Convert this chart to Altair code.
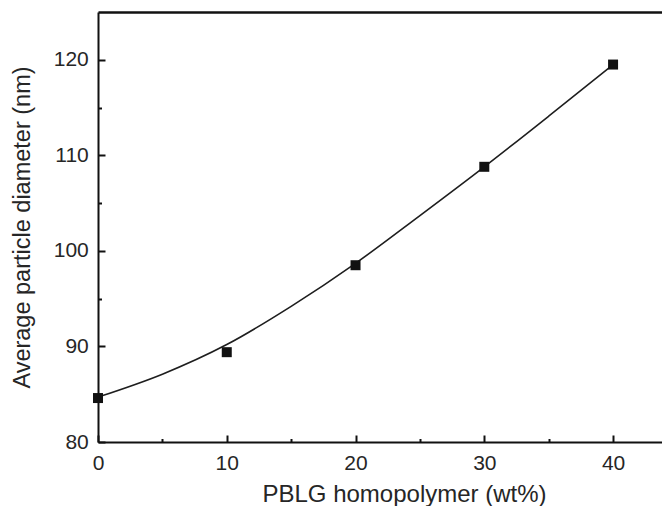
import altair as alt
import pandas as pd

# ---- data ----
wt = [0, 10, 20, 30, 40]
diameter = [84.6, 89.4, 98.5, 108.8, 119.5]
fit_wt = [0, 5, 10, 15, 20, 25, 30, 35, 40]
fit_diameter = [84.7, 87.1, 90.2, 94.2, 98.7, 103.7, 108.8, 114.1, 119.5]
x_major = [0, 10, 20, 30, 40]
x_minor = [5, 15, 25, 35]
y_major = [80, 90, 100, 110, 120]
y_minor = [85, 95, 105, 115]
x_domain = [0, 43.8]
y_domain = [80, 125]

pts = pd.DataFrame({"wt": wt, "d": diameter})
fit = pd.DataFrame({"wt": fit_wt, "d": fit_diameter})

FONT = "Liberation Sans"
INK = "#111111"
TXT = "#262626"
W, H = 564, 430

xs = alt.Scale(domain=x_domain, nice=False, zero=False)
ys = alt.Scale(domain=y_domain, nice=False, zero=False)

base = dict(grid=False, domainColor=INK, tickColor=INK, labelFont=FONT,
            titleFont=FONT, labelColor=TXT, titleColor=TXT,
            titleFontWeight="normal")

x_main = alt.Axis(orient="bottom", values=x_major, format="d",
                  tickSize={"expr": "-7"}, tickWidth=2, domainWidth=2,
                  labelFontSize=21, labelPadding=17.4, labelFlush=False,
                  title="PBLG homopolymer (wt%)", titleFontSize=24,
                  titleX=306, titleY=59, titleBaseline="alphabetic",
                  titleAlign="center", **base)
y_main = alt.Axis(orient="left", values=y_major, format="d",
                  tickSize={"expr": "-7"}, tickWidth=2, domainWidth=2,
                  labelFontSize=21, labelPadding=16.7, labelFlush=False,
                  title="Average particle diameter (nm)", titleFontSize=23.5,
                  titleX=-68.5, titleY=H / 2, titleBaseline="alphabetic",
                  titleAlign="center", **base)

x_min = alt.Axis(orient="bottom", values=x_minor, labels=False, domain=False,
                 tickSize={"expr": "-3.5"}, tickWidth=2, title=None, **base)
y_min = alt.Axis(orient="left", values=y_minor, labels=False, domain=False,
                 tickSize={"expr": "-3.5"}, tickWidth=2, title=None, **base)
x_top = alt.Axis(orient="top", labels=False, ticks=False, domain=True,
                 domainWidth=2.5, title=None, **base)

line = alt.Chart(fit).mark_line(
    interpolate="monotone", color="#1e1e1e", strokeWidth=1.6
).encode(
    x=alt.X("wt:Q", scale=xs, axis=x_top),
    y=alt.Y("d:Q", scale=ys, axis=y_min),
)

points = alt.Chart(pts).mark_square(size=100, color="#111111", opacity=1).encode(
    x=alt.X("wt:Q", scale=xs, axis=x_main),
    y=alt.Y("d:Q", scale=ys, axis=y_main),
)

minor = alt.Chart(pts).mark_point(opacity=0).encode(
    x=alt.X("wt:Q", scale=xs, axis=x_min),
    y=alt.Y("d:Q", scale=ys, axis=None),
)

chart = alt.layer(line, points, minor).resolve_axis(
    x="independent", y="independent"
).properties(
    width=W, height=H,
    padding={"left": 90, "top": 4, "right": 0, "bottom": 64},
    autosize=alt.AutoSizeParams(type="none"),
    background="white",
).configure_view(stroke=None)

chart.save("out.html", embed_options={"renderer": "svg", "actions": False})
